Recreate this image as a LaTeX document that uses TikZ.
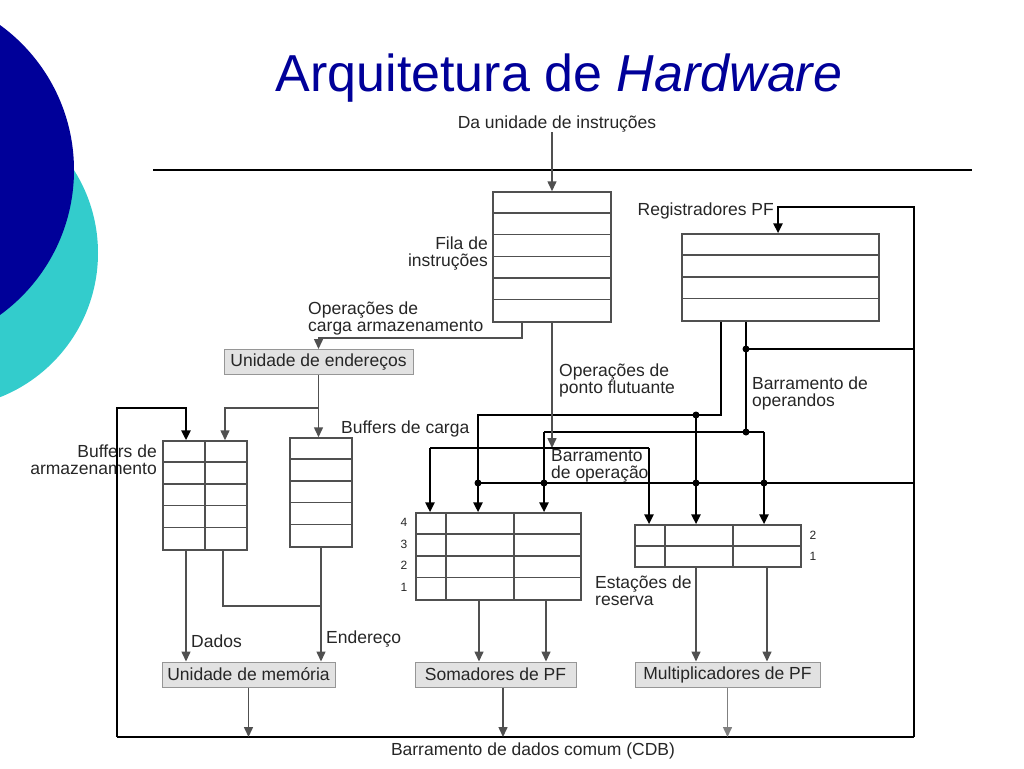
\documentclass[tikz,border=0pt]{standalone}
\usepackage{fontspec}
\setmainfont{Liberation Sans}
\usetikzlibrary{arrows.meta}
\definecolor{azulescuro}{RGB}{0,0,153}
\definecolor{turquesa}{RGB}{51,204,204}
\definecolor{cinzalinha}{RGB}{80,80,80}
\definecolor{cinzacaixa}{RGB}{226,226,226}
\definecolor{cinzaborda}{RGB}{150,150,150}
\newcommand{\rot}{\fontsize{17.5}{17}\selectfont}
\newcommand{\nrfont}{\fontsize{12}{12}\selectfont}

\begin{document}
\begin{tikzpicture}[x=1pt,y=-1pt,
  fio/.style={draw=cinzalinha, line width=1.5pt},
  bus/.style={draw=black, line width=2.5pt},
  seta/.style={-{Triangle[length=10pt,width=9pt]}},
  tabela/.style={draw=cinzalinha, line width=1.5pt, inner sep=0pt},
  unid/.style={draw=cinzaborda, fill=cinzacaixa, line width=1pt, inner sep=0pt, minimum height=25pt, font=\rot, text=black!85},
  rotulo/.style={inner sep=0pt, font=\rot, text=black!85},
  ponto/.style={circle, fill=black, inner sep=0pt, minimum size=7pt}]
\useasboundingbox (0,0) rectangle (1024,768);
\clip (0,0) rectangle (1024,768);
% circulos do slide
\fill[turquesa] (-57,253) circle[radius=155];
\fill[azulescuro] (-105,170) circle[radius=179];
\node[font=\fontsize{52}{52}\selectfont, text=azulescuro] (titulo) at (559,78) {Arquitetura de \textit{Hardware}};

% entrada
\node[rotulo] (origem) at (557,124) {Da unidade de instruções};
\draw[black, line width=1.5pt] (153,170) -- (972,170);

% fila de instrucoes
\node[tabela, minimum width=118pt, minimum height=130pt] (fila) at (552,257) {};
\foreach \k in {1,...,5}
  \draw[fio] ([yshift=-\k*21.67pt]fila.north west) -- ([yshift=-\k*21.67pt]fila.north east);
\node[rotulo, anchor=east, align=right] at (488,253.5) {Fila de\\instruções};
\draw[fio,seta] (origem.south -| fila.north) -- (fila.north);

% registradores PF
\node[tabela, minimum width=197pt, minimum height=87pt] (regpf) at (780.5,277.5) {};
\foreach \k in {1,2,3}
  \draw[fio] ([yshift=-\k*21.75pt]regpf.north west) -- ([yshift=-\k*21.75pt]regpf.north east);
\node[rotulo, anchor=east] at (774,211) {Registradores PF};

% buffers
\node[tabela, minimum width=84pt, minimum height=109pt] (buffarm) at (205,495.5) {};
\foreach \k in {1,...,4}
  \draw[fio] ([yshift=-\k*21.8pt]buffarm.north west) -- ([yshift=-\k*21.8pt]buffarm.north east);
\draw[fio] (buffarm.north) -- (buffarm.south);
\node[rotulo, anchor=east, align=right] at (157,459.5) {Buffers de\\armazenamento};
\node[tabela, minimum width=62pt, minimum height=109pt] (buffcarga) at (321,492.5) {};
\foreach \k in {1,...,4}
  \draw[fio] ([yshift=-\k*21.8pt]buffcarga.north west) -- ([yshift=-\k*21.8pt]buffcarga.north east);
\node[rotulo, anchor=west] at (341,429) {Buffers de carga};

% estacoes de reserva
\node[tabela, minimum width=165pt, minimum height=87pt] (estsoma) at (498.5,556.5) {};
\foreach \k in {1,2,3}
  \draw[fio] ([yshift=-\k*21.75pt]estsoma.north west) -- ([yshift=-\k*21.75pt]estsoma.north east);
\foreach \dx in {-52.5,15.5}
  \draw[fio] ([xshift=\dx pt]estsoma.north) -- ([xshift=\dx pt]estsoma.south);
\foreach \r [count=\i] in {4,3,2,1}
  \node[font=\nrfont, text=black!85] at (404,{512+(\i-0.5)*21.5}) {\r};
\node[tabela, minimum width=166pt, minimum height=42pt] (estmult) at (718,546) {};
\draw[fio] (estmult.west) -- (estmult.east);
\foreach \dx in {-53,15}
  \draw[fio] ([xshift=\dx pt]estmult.north) -- ([xshift=\dx pt]estmult.south);
\node[font=\nrfont, text=black!85] at (813,535.5) {2};
\node[font=\nrfont, text=black!85] at (813,556.5) {1};
\node[rotulo, anchor=west, align=left] at (595,591) {Estações de\\reserva};

% unidades
\node[unid, minimum width=189pt] (uend) at (318.5,362) {Unidade de endereços};
\node[unid, minimum width=173pt] (umem) at (248.5,674.5) {Unidade de memória};
\node[unid, minimum width=161pt] (usoma) at (495.5,674.5) {Somadores de PF};
\node[unid, minimum width=185pt] (umult) at (727.5,674.5) {Multiplicadores de PF};

% carga e armazenamento
\draw[fio,seta] ([xshift=-30pt]fila.south) -- ++(0,15) -| (uend.north);
\node[rotulo, anchor=west, align=left] at (308,318.5) {Operações de\\carga armazenamento};
\coordinate (ramo) at (318.5,408);
\draw[fio,seta] (uend.south) -- (uend.south |- buffcarga.north);
\draw[fio,seta] (ramo) -| ([xshift=20pt]buffarm.north);
\draw[fio,seta] ([xshift=-19pt]buffarm.south) -- ([xshift=-19pt]buffarm.south |- umem.north);
\draw[fio] ([xshift=18pt]buffarm.south) -- ++(0,55) -| (buffcarga.south);
\draw[fio,seta] (buffcarga.south) -- (buffcarga.south |- umem.north);
\node[rotulo, anchor=west] at (191,641) {Dados};
\node[rotulo, anchor=west] at (326,639) {Endereço};

% barramento comum (CDB)
\coordinate (cdbO) at (117,737);
\coordinate (cdbL) at (914,737);
\coordinate (topo) at (914,207);
\draw[bus] (cdbO) -- (cdbL);
\node[rotulo] at (533,751) {Barramento de dados comum (CDB)};
\draw[bus,seta] (cdbO) |- ([xshift=-19pt]buffarm.north |- ramo) -- ([xshift=-19pt]buffarm.north);
\draw[bus,seta] (cdbL) -- (topo) -| ([xshift=-2.5pt]regpf.north);
\coordinate (cdbR) at (478,483);
\draw[bus] (cdbR) -- (cdbR -| topo);

% barramento de operandos
\coordinate (opA) at (478,415);
\coordinate (opB) at (544,432);
\coordinate (opC) at (764,432);
\node[ponto] (pA) at (696,415) {};
\node[ponto] (pB) at (746,432) {};
\node[ponto] (pR) at (746,349) {};
\draw[bus,seta] ([xshift=-59.5pt]regpf.south) |- (opA) -- (opA |- estsoma.north);
\draw[bus,seta] (pA.center) -- (pA.center |- estmult.north);
\draw[bus] ([xshift=-34.5pt]regpf.south) -- (pB.center);
\draw[bus] (pR.center) -- (pR.center -| topo);
\draw[bus] (opB) -- (opC);
\draw[bus,seta] (opB) -- (opB |- estsoma.north);
\draw[bus,seta] (opC) -- (opC |- estmult.north);
\foreach \px in {478,544,696,764}
  \node[ponto] at (\px,483) {};
\node[rotulo, anchor=west, align=left] at (752,393) {Barramento de\\operandos};

% barramento de operacao
\coordinate (opbus) at (430,448);
\coordinate (opbusD) at (649,448);
\draw[fio,seta] (fila.south) -- (fila.south |- opbus);
\draw[bus] (opbus) -- (opbusD);
\draw[bus,seta] (opbus) -- (opbus |- estsoma.north);
\draw[bus,seta] (opbusD) -- (opbusD |- estmult.north);
\node[rotulo, anchor=west, align=left] at (559,380.5) {Operações de\\ponto flutuante};
\node[rotulo, anchor=west, align=left] at (551,466) {Barramento\\de operação};

% unidades funcionais
\draw[fio,seta] ([xshift=-19.5pt]estsoma.south) -- ([xshift=-19.5pt]estsoma.south |- usoma.north);
\draw[fio,seta] ([xshift=47.5pt]estsoma.south) -- ([xshift=47.5pt]estsoma.south |- usoma.north);
\draw[fio,seta] ([xshift=-22pt]estmult.south) -- ([xshift=-22pt]estmult.south |- umult.north);
\draw[fio,seta] ([xshift=49pt]estmult.south) -- ([xshift=49pt]estmult.south |- umult.north);
\draw[fio,seta] (umem.south) -- (umem.south |- cdbO);
\draw[fio,seta] ([xshift=7.5pt]usoma.south) -- ([xshift=7.5pt]usoma.south |- cdbO);
\draw[fio,seta,draw=gray] (umult.south) -- (umult.south |- cdbO);
\end{tikzpicture}
\end{document}
